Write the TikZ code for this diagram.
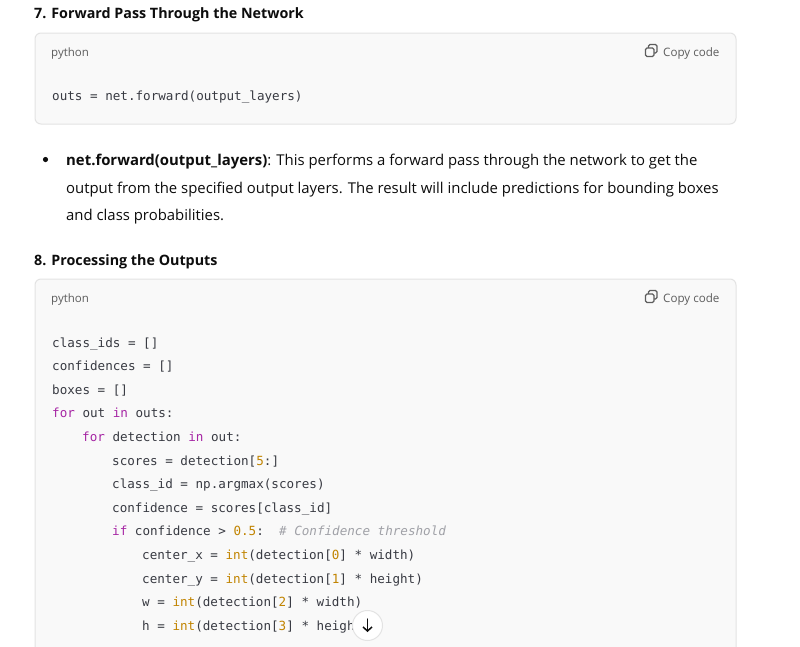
\documentclass[tikz,border=0pt]{standalone}
\usepackage{fontspec}
\setmainfont{Open Sans}
\newfontfamily\codefont{DejaVu Sans Mono}
\usetikzlibrary{arrows.meta}
\definecolor{bodytxt}{HTML}{0D0D0D}
\definecolor{codetxt}{HTML}{383A42}
\definecolor{kwcol}{HTML}{A626A4}
\definecolor{numcol}{HTML}{C18401}
\definecolor{cmtcol}{HTML}{A0A1A7}
\definecolor{boxfill}{HTML}{F9F9F9}
\definecolor{boxline}{HTML}{E3E3E3}
\definecolor{labelcol}{HTML}{5D5D5D}
\newcommand{\kw}[1]{\textcolor{kwcol}{#1}}
\newcommand{\nm}[1]{\textcolor{numcol}{#1}}
\newcommand{\cm}[1]{\textcolor{cmtcol}{\itshape #1}}
\tikzset{
  heading/.style={anchor=base west, inner sep=0, text=bodytxt, font=\bfseries\fontsize{14.3}{17}\selectfont},
  bodyline/.style={anchor=base west, inner sep=0, text=bodytxt, font=\fontsize{14.9}{18}\selectfont},
  codeline/.style={anchor=base west, inner sep=0, text=codetxt, font=\codefont\fontsize{12.6}{15}\selectfont},
  langlabel/.style={anchor=base west, inner sep=0, text=labelcol, font=\fontsize{11.5}{14}\selectfont},
  copylabel/.style={anchor=base west, inner sep=0, text=labelcol, font=\fontsize{11.6}{14}\selectfont},
  codebox/.style={draw=boxline, fill=boxfill, line width=1pt, rounded corners=6pt},
  copyicon/.style={draw=labelcol, line width=1.1pt, rounded corners=1.5pt}
}
\begin{document}
\begin{tikzpicture}[x=1pt,y=-1pt]
\useasboundingbox[fill=white] (0,0) rectangle (800,646);
% ---------- Section 7 ----------
\node[heading] (h7) at (34,18) {7. Forward Pass Through the Network};
\draw[codebox] (35,33) rectangle (736,124);
\node[langlabel] (py1) at (51,56) {python};
\draw[copyicon, fill=boxfill] (648.5,44.5) rectangle (657,53);
\draw[copyicon, fill=boxfill] (645.5,48) rectangle (654,56.5);
\node[copylabel] (cp1) at (663,56) {Copy code};
\node[codeline] (c1) at (52,100) {outs = net.forward(output\_layers)};
% ---------- bullet ----------
\fill[bodytxt] (45.5,159.5) circle (2.6);
\node[bodyline] (b1) at (66,165) {\textbf{net.forward(output\_layers)}: This performs a forward pass through the network to get the};
\node[bodyline] (b2) at (66,193) {output from the specified output layers. The result will include predictions for bounding boxes};
\node[bodyline] (b3) at (66,220) {and class probabilities.};
% ---------- Section 8 ----------
\node[heading] (h8) at (34,265) {8. Processing the Outputs};
\begin{scope}
\clip (0,0) rectangle (800,646);
\draw[codebox] (35,279) rectangle (736,700);
\end{scope}
\node[langlabel] (py2) at (51,302) {python};
\draw[copyicon, fill=boxfill] (648.5,290.5) rectangle (657,299);
\draw[copyicon, fill=boxfill] (645.5,294) rectangle (654,302.5);
\node[copylabel] (cp2) at (663,302) {Copy code};
\node[codeline] (l0) at (52,347) {class\_ids = []};
\node[codeline] (l1) at (52,370.6) {confidences = []};
\node[codeline] (l2) at (52,394.2) {boxes = []};
\node[codeline] (l3) at (52,417.8) {\kw{for} out \kw{in} outs:};
\node[codeline] (l4) at (82,441.4) {\kw{for} detection \kw{in} out:};
\node[codeline] (l5) at (112,465) {scores = detection[\nm{5}:]};
\node[codeline] (l6) at (112,488.6) {class\_id = np.argmax(scores)};
\node[codeline] (l7) at (112,512.2) {confidence = scores[class\_id]};
\node[codeline] (l8) at (112,535.8) {\kw{if} confidence > \nm{0.5}:\ \ \cm{\# Confidence threshold}};
\node[codeline] (l9) at (142,559.4) {center\_x = \nm{int}(detection[\nm{0}] * width)};
\node[codeline] (l10) at (142,583) {center\_y = \nm{int}(detection[\nm{1}] * height)};
\node[codeline] (l11) at (142,606.6) {w = \nm{int}(detection[\nm{2}] * width)};
\node[codeline] (l12) at (142,630.2) {h = \nm{int}(detection[\nm{3}] * heigh};
% ---------- scroll button ----------
\node[circle, draw=boxline, fill=white, line width=1pt, minimum size=30pt, inner sep=0] (scroll) at (367.5,625.5) {};
\coordinate (arTop) at ([yshift=6.5pt]scroll.center);
\coordinate (arBot) at ([yshift=-6.5pt]scroll.center);
\draw[bodytxt, line width=1.5pt, line cap=round, -{Straight Barb[length=4pt,width=9pt,line width=1.5pt]}] (arTop) -- (arBot);
\end{tikzpicture}
\end{document}
